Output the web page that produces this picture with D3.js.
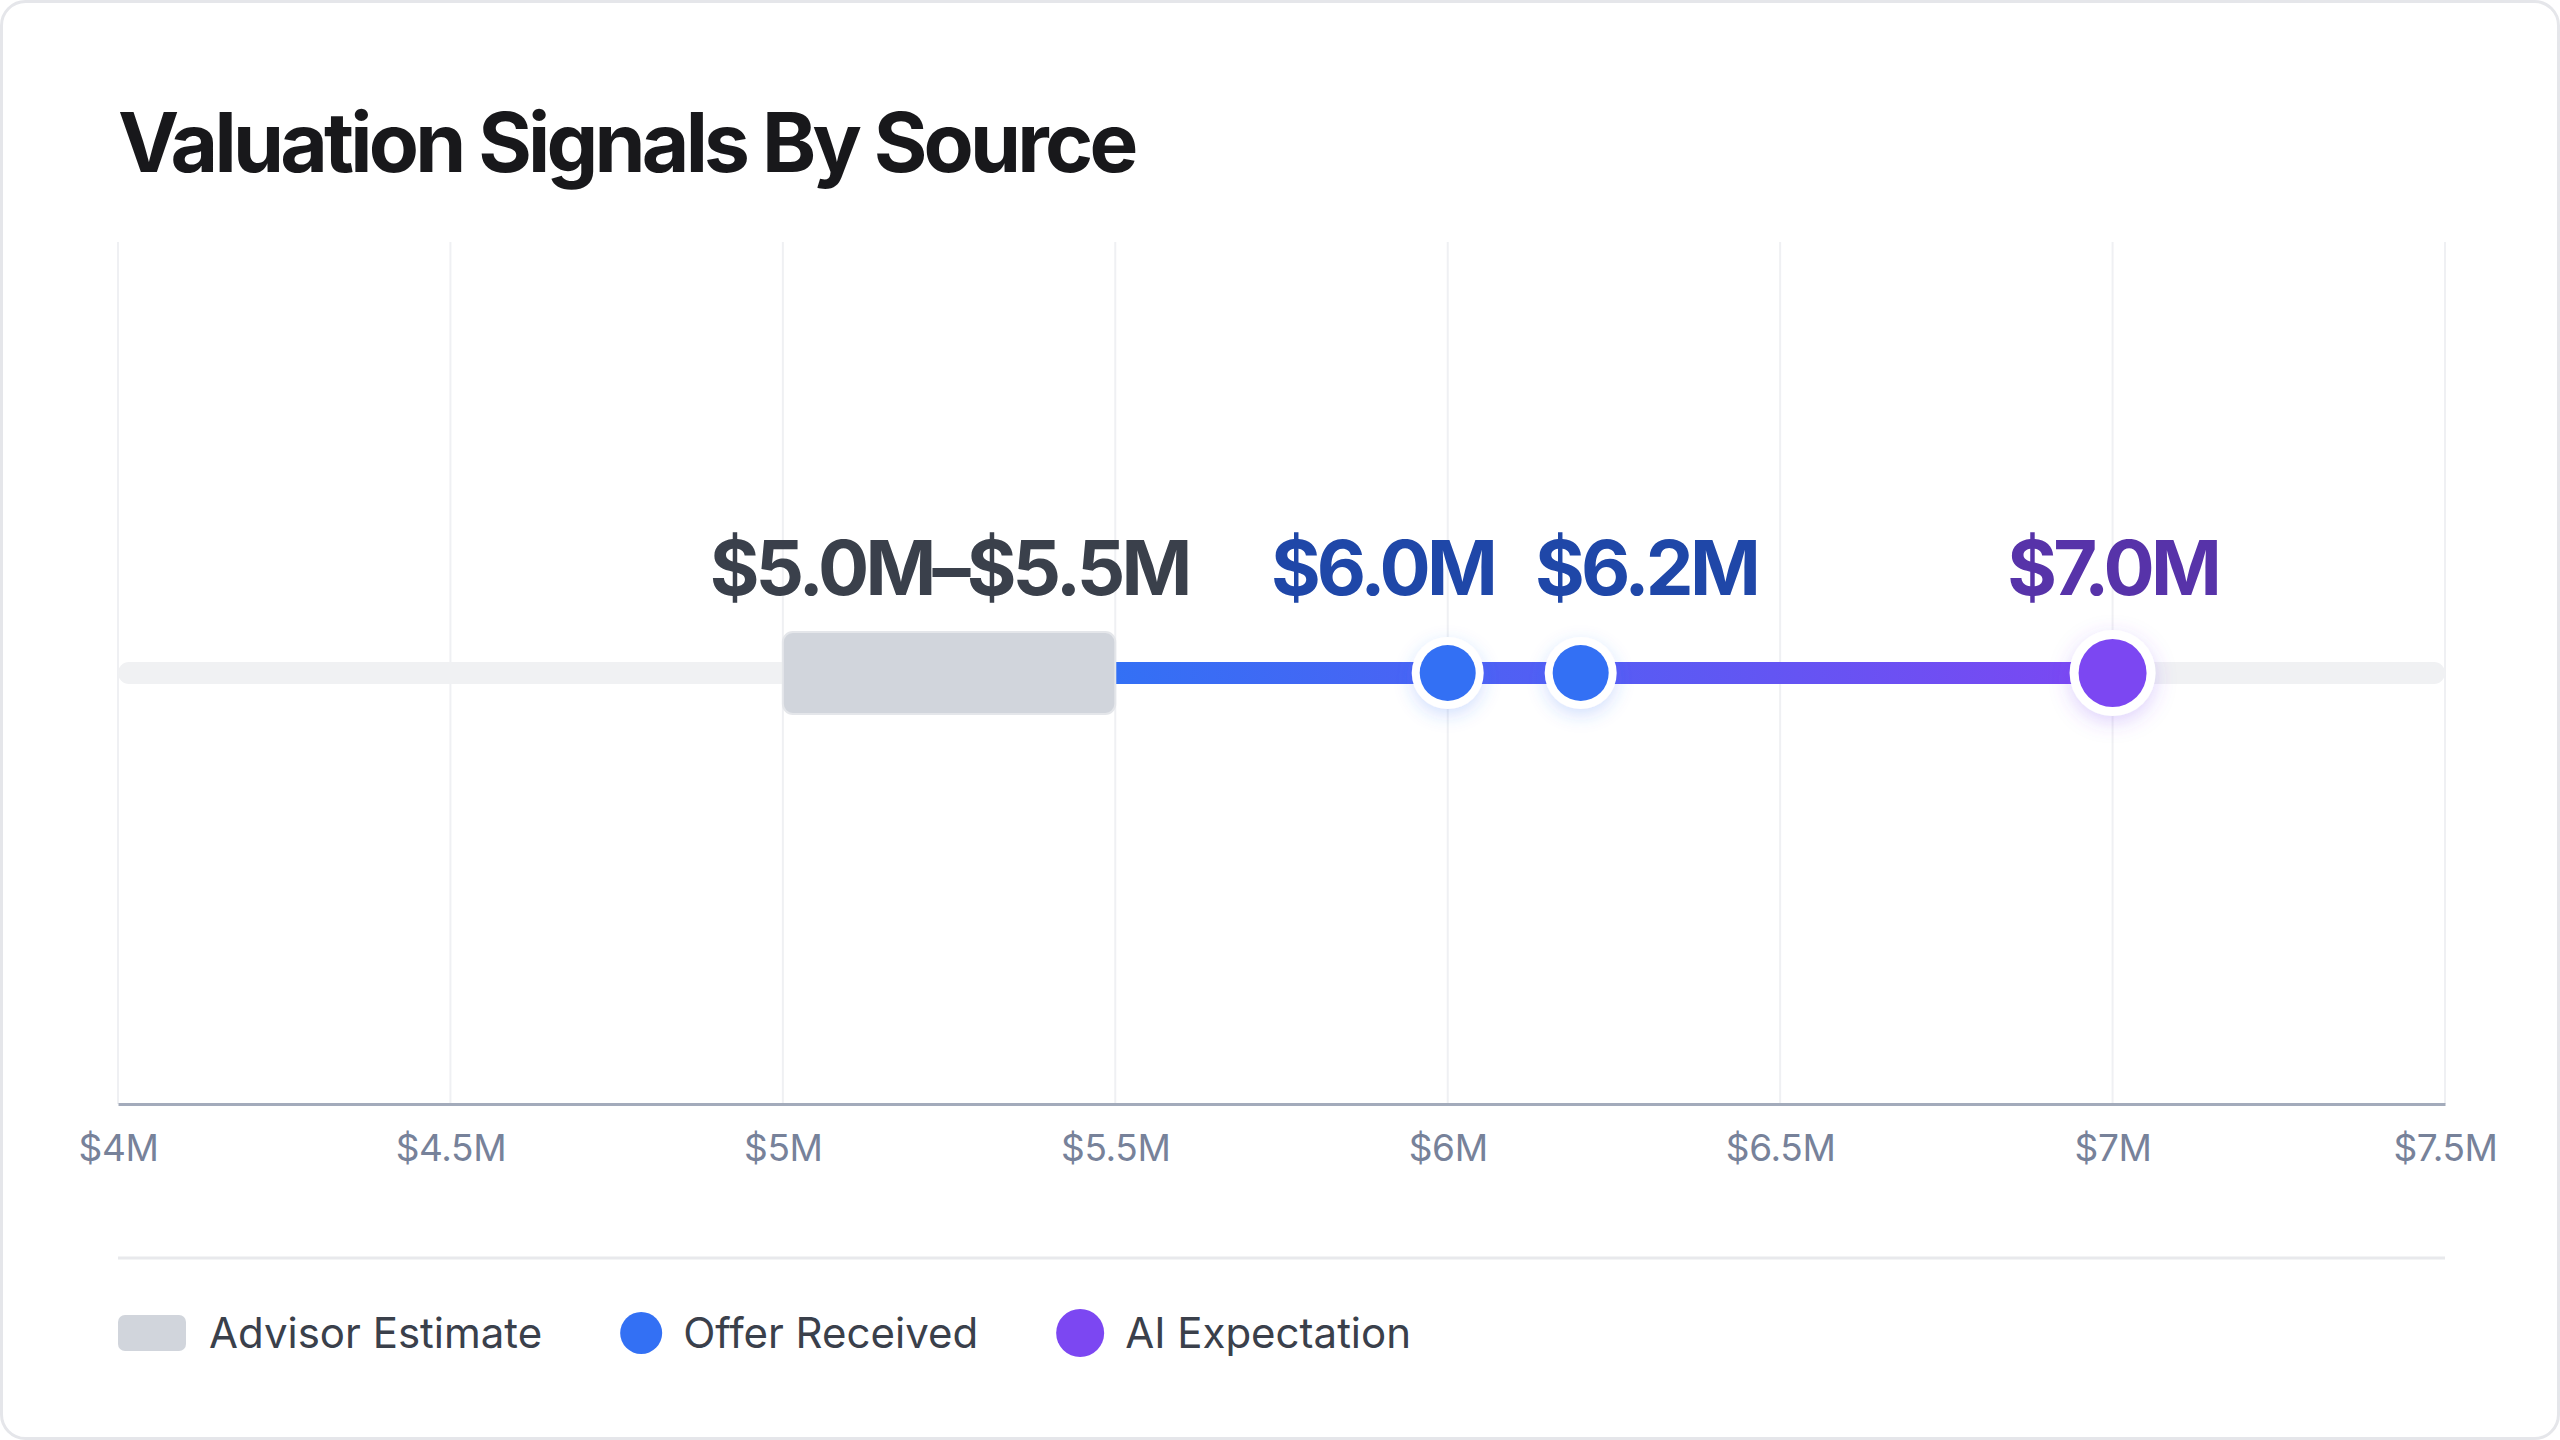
<!DOCTYPE html>
<html>
<head>
<meta charset="utf-8">
<script src="https://cdn.jsdelivr.net/npm/d3@7"></script>
<style>
  html, body { margin: 0; padding: 0; background: #ffffff; }
  svg { display: block; font-family: Inter, "Noto Sans", sans-serif; }
</style>
</head>
<body>
<div id="chart"></div>
<script>
// values in $M
const tickValues = [4, 4.5, 5, 5.5, 6, 6.5, 7, 7.5];
const xDomain = [4, 7.5];
const advisorRange = [5.0, 5.5];
const offerValues = [6.0, 6.2];
const aiValue = 7.0;
const legendNames = ["Advisor Estimate", "Offer Received", "AI Expectation"];
const titleText = "Valuation Signals By Source";

const W = 2560, H = 1440;
const margin = { top: 242, right: 115, bottom: 336, left: 118 };
const trackY = 673;

const svg = d3.select('#chart')
  .append('svg')
  .attr('width', W)
  .attr('height', H);

const defs = svg.append('defs');
const grad = defs.append('linearGradient')
  .attr('id', 'signalGradient')
  .attr('gradientUnits', 'userSpaceOnUse');
const blueShadow = defs.append('filter').attr('id', 'blueGlow')
  .attr('x', '-60%').attr('y', '-60%').attr('width', '220%').attr('height', '220%');
blueShadow.append('feDropShadow').attr('dx', 0).attr('dy', 6).attr('stdDeviation', 9)
  .attr('flood-color', '#3b6ff6').attr('flood-opacity', 0.22);
const purpleShadow = defs.append('filter').attr('id', 'purpleGlow')
  .attr('x', '-60%').attr('y', '-60%').attr('width', '220%').attr('height', '220%');
purpleShadow.append('feDropShadow').attr('dx', 0).attr('dy', 6).attr('stdDeviation', 10)
  .attr('flood-color', '#7c47f2').attr('flood-opacity', 0.25);

// card
svg.append('rect')
  .attr('x', 1.5).attr('y', 1.5)
  .attr('width', W - 3).attr('height', H - 3)
  .attr('rx', 24)
  .attr('fill', '#ffffff')
  .attr('stroke', '#e5e6ea')
  .attr('stroke-width', 3);

svg.append('text')
  .attr('x', margin.left)
  .attr('y', 172)
  .attr('fill', '#18181b')
  .attr('font-size', 82)
  .attr('font-weight', 700)
  .attr('letter-spacing', '-0.046em')
  .text(titleText);

const x = d3.scaleLinear()
  .domain(xDomain)
  .range([margin.left, W - margin.right]);
const axisY = H - margin.bottom; // 1104

grad.attr('x1', x(advisorRange[1])).attr('x2', x(aiValue)).attr('y1', 0).attr('y2', 0);
grad.append('stop').attr('offset', '0%').attr('stop-color', '#3370f5');
grad.append('stop').attr('offset', '100%').attr('stop-color', '#7c47f2');

// grid
svg.append('g')
  .selectAll('line')
  .data(tickValues)
  .join('line')
  .attr('x1', d => x(d)).attr('x2', d => x(d))
  .attr('y1', margin.top).attr('y2', axisY)
  .attr('stroke', '#eff0f3')
  .attr('stroke-width', 2);

// axis
const axis = svg.append('g')
  .attr('transform', `translate(0, ${axisY})`)
  .call(d3.axisBottom(x).tickValues(tickValues).tickSize(0).tickPadding(24)
    .tickFormat(d => `$${d}M`));
axis.select('.domain').attr('stroke', '#a3abbb').attr('stroke-width', 3);
axis.selectAll('text')
  .attr('fill', '#77829a')
  .attr('font-size', 37)
  .attr('font-family', 'Inter, sans-serif')
  .attr('letter-spacing', '-0.01em')
  .attr('dy', '0.88em');

// track
const trackH = 22;
svg.append('rect')
  .attr('x', x(xDomain[0])).attr('y', trackY - trackH / 2)
  .attr('width', x(xDomain[1]) - x(xDomain[0])).attr('height', trackH)
  .attr('rx', trackH / 2)
  .attr('fill', '#f0f1f3');

svg.append('rect')
  .attr('x', x(advisorRange[1])).attr('y', trackY - trackH / 2)
  .attr('width', x(aiValue) - x(advisorRange[1])).attr('height', trackH)
  .attr('fill', 'url(#signalGradient)');

// advisor box
const boxH = 82;
svg.append('rect')
  .attr('x', x(advisorRange[0])).attr('y', trackY - boxH / 2)
  .attr('width', x(advisorRange[1]) - x(advisorRange[0])).attr('height', boxH)
  .attr('rx', 10)
  .attr('fill', '#d1d5dc')
  .attr('stroke', '#e4e6ea')
  .attr('stroke-width', 2);

// offer dots
const offerG = svg.append('g');
offerG.selectAll('circle.ring')
  .data(offerValues)
  .join('circle')
  .attr('class', 'ring')
  .attr('cx', d => x(d)).attr('cy', trackY).attr('r', 36)
  .attr('fill', '#ffffff')
  .attr('filter', 'url(#blueGlow)');
offerG.selectAll('circle.dot')
  .data(offerValues)
  .join('circle')
  .attr('class', 'dot')
  .attr('cx', d => x(d)).attr('cy', trackY).attr('r', 28)
  .attr('fill', '#3370f4');

// ai dot
svg.append('circle')
  .attr('cx', x(aiValue)).attr('cy', trackY).attr('r', 43)
  .attr('fill', '#ffffff')
  .attr('filter', 'url(#purpleGlow)');
svg.append('circle')
  .attr('cx', x(aiValue)).attr('cy', trackY).attr('r', 34)
  .attr('fill', '#7c47f2');

// value labels
const f1 = d3.format('.1f');
const labels = [
  { text: `$${f1(advisorRange[0])}M–$${f1(advisorRange[1])}M`, cx: x((advisorRange[0] + advisorRange[1]) / 2), color: '#3a404b' },
  ...offerValues.map(v => ({ text: `$${f1(v)}M`, cx: x(v), color: '#1f47a8' })),
  { text: `$${f1(aiValue)}M`, cx: x(aiValue), color: '#5733a9' }
];

const labelSel = svg.append('g')
  .selectAll('text')
  .data(labels)
  .join('text')
  .attr('y', trackY - 78)
  .attr('text-anchor', 'middle')
  .attr('font-size', 76)
  .attr('font-weight', 700)
  .attr('letter-spacing', '-0.05em')
  .attr('fill', d => d.color)
  .text(d => d.text);

labelSel.each(function (d) { d.w = this.getComputedTextLength(); });
// push overlapping labels apart
const gap = 41;
for (let iter = 0; iter < 5; iter++) {
  for (let i = 0; i < labels.length - 1; i++) {
    const a = labels[i], b = labels[i + 1];
    const overlap = (a.cx + a.w / 2 + gap) - (b.cx - b.w / 2);
    if (overlap > 0) { a.cx -= overlap / 2; b.cx += overlap / 2; }
  }
}
labelSel.attr('x', d => d.cx);

// separator
svg.append('line')
  .attr('x1', x(xDomain[0])).attr('x2', x(xDomain[1]))
  .attr('y1', 1258).attr('y2', 1258)
  .attr('stroke', '#e8e9ec')
  .attr('stroke-width', 3);

// legend
const legendY = 1333;
const legend = svg.append('g');
let lx = margin.left;
legendNames.forEach((name, i) => {
  if (i === 0) {
    legend.append('rect')
      .attr('x', lx).attr('y', legendY - 18)
      .attr('width', 68).attr('height', 36).attr('rx', 7)
      .attr('fill', '#d1d5dc');
    lx += 68 + 23;
  } else {
    const r = i === 1 ? 21 : 24;
    legend.append('circle')
      .attr('cx', lx + r).attr('cy', legendY).attr('r', r)
      .attr('fill', i === 1 ? '#3370f4' : '#7c47f2');
    lx += 2 * r + 21;
  }
  const t = legend.append('text')
    .attr('x', lx).attr('y', legendY + 15)
    .attr('font-size', 42)
    .attr('fill', '#3a404b')
    .text(name);
  lx += t.node().getComputedTextLength() + 78;
});
</script>
</body>
</html>
